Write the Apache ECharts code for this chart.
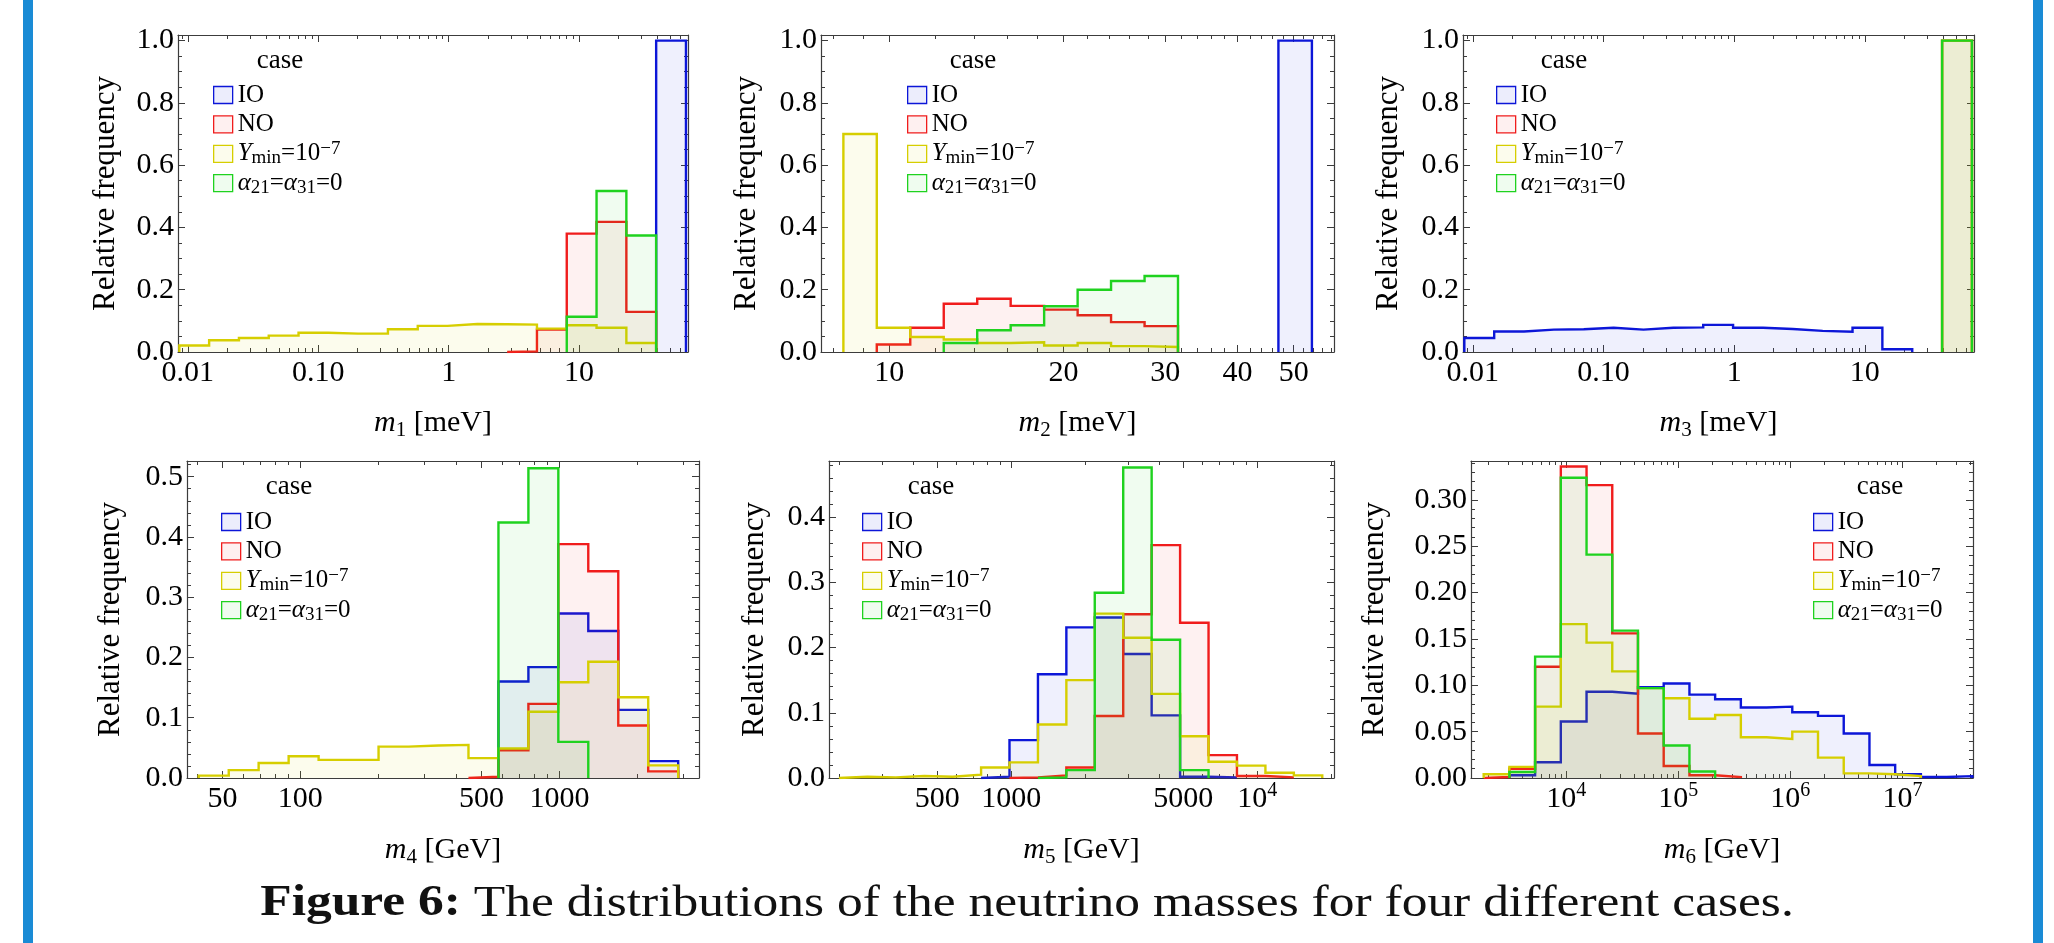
<!DOCTYPE html>
<html>
<head>
<meta charset="utf-8">
<script src="https://cdn.jsdelivr.net/npm/echarts@6.0.0/dist/echarts.min.js"></script>
<style>
  html, body { margin: 0; padding: 0; background: #fff; }
  #chart { width: 2054px; height: 943px; }
</style>
</head>
<body>
<div id="chart"></div>
<script>
// ---------------- data: histogram bin edges and relative frequencies ----------------
// m1 and m3 share one logarithmic binning (meV)
const m13Edges = [0.00861, 0.01457, 0.02466, 0.04174, 0.07063, 0.1195, 0.2023, 0.3423, 0.5794,
  0.9806, 1.660, 2.809, 4.753, 8.044, 13.61, 23.04, 38.99, 65.99];
const m1IO    = [null, null, null, null, null, null, null, null, null, null, null, null, null, null, null, null, 1.0];
const m1NO    = [null, null, null, null, null, null, null, null, null, null, null, 0.002, 0.072, 0.380, 0.418, 0.129, null];
const m1Ymin  = [0.021, 0.0375, 0.045, 0.0525, 0.062, 0.059, 0.059, 0.073, 0.084, 0.090, 0.089, 0.088, 0.075, 0.086, 0.078, 0.029, null];
const m1Alpha = [null, null, null, null, null, null, null, null, null, null, null, null, null, 0.113, 0.517, 0.374, null];

const m3IO    = [0.045, 0.066, 0.072, 0.073, 0.078, 0.072, 0.078, 0.079, 0.087, 0.078, 0.074, 0.068, 0.065, 0.078, 0.009, null, null];
const m3NO    = [null, null, null, null, null, null, null, null, null, null, null, null, null, null, null, null, 1.0];
const m3Ymin  = [null, null, null, null, null, null, null, null, null, null, null, null, null, null, null, null, 1.0];
const m3Alpha = [null, null, null, null, null, null, null, null, null, null, null, null, null, null, null, null, 1.0];

// m2 (meV)
const m2Edges = [8.33, 9.514, 10.87, 12.42, 14.19, 16.21, 18.52, 21.16, 24.17, 27.62, 31.55, 36.05, 41.19, 47.05, 53.76];
const m2IO    = [null, null, null, null, null, null, null, null, null, null, null, null, null, 1.0];
const m2NO    = [null, 0.024, 0.078, 0.155, 0.171, 0.148, 0.136, 0.118, 0.096, 0.083, null, null, null, null];
const m2Ymin  = [0.700, 0.078, 0.048, 0.040, 0.029, 0.031, 0.021, 0.029, 0.019, 0.016, null, null, null, null];
const m2Alpha = [null, null, null, 0.029, 0.070, 0.086, 0.147, 0.200, 0.228, 0.244, null, null, null, null];

// m4 (GeV)
const m4Edges = [40.5, 52.9, 69.0, 90.1, 117.6, 153.5, 200.4, 261.6, 341.5, 445.7, 581.8, 759.3, 990.8, 1293, 1688, 2203, 2876];
const m4IO    = [null, null, null, null, null, null, null, null, null, null, 0.160, 0.184, 0.273, 0.244, 0.113, 0.028];
const m4NO    = [null, null, null, null, null, null, null, null, null, 0.002, 0.046, 0.123, 0.388, 0.343, 0.087, 0.011];
const m4Ymin  = [0.004, 0.013, 0.025, 0.036, 0.030, 0.030, 0.052, 0.054, 0.055, 0.033, 0.049, 0.110, 0.159, 0.193, 0.134, 0.021];
const m4Alpha = [null, null, null, null, null, null, null, null, null, null, 0.424, 0.514, 0.060, null, null, null];

// m5 (GeV)
const m5Edges = [199.3, 260.2, 339.4, 442.9, 577.9, 754.1, 983.8, 1284, 1675, 2185, 2852, 3721, 4856, 6337, 8267, 10790, 14080, 18370];
const m5IO    = [null, null, null, null, null, 0.002, 0.058, 0.159, 0.231, 0.246, 0.190, 0.096, 0.002, 0.001, null, null, null];
const m5NO    = [null, null, null, null, null, null, 0.001, 0.004, 0.016, 0.095, 0.251, 0.357, 0.238, 0.035, 0.003, 0.001, null];
const m5Ymin  = [0.002, 0.001, 0.003, 0.002, 0.005, 0.016, 0.024, 0.082, 0.150, 0.252, 0.215, 0.129, 0.064, 0.025, 0.019, 0.008, 0.004];
const m5Alpha = [null, null, null, null, null, null, null, 0.001, 0.012, 0.284, 0.476, 0.212, 0.012, null, null, null, null];

// m6 (GeV)
const m6Edges = [1828, 3101, 5262, 8929, 15150, 25700, 43610, 73990, 125600, 213000, 361400, 613200,
  1.040e6, 1.765e6, 2.995e6, 5.082e6, 8.622e6, 1.463e7, 2.482e7, 4.211e7];
const m6IO    = [null, 0.003, 0.017, 0.061, 0.093, 0.091, 0.098, 0.102, 0.090, 0.085, 0.076, 0.077, 0.071, 0.067, 0.048, 0.014, 0.004, 0.001, 0.002];
const m6NO    = [0.001, 0.010, 0.120, 0.336, 0.316, 0.156, 0.048, 0.013, 0.003, 0.001, null, null, null, null, null, null, null, null, null];
const m6Ymin  = [0.004, 0.012, 0.077, 0.166, 0.146, 0.115, 0.097, 0.086, 0.064, 0.068, 0.044, 0.042, 0.050, 0.022, 0.005, 0.004, 0.002, null, null];
const m6Alpha = [null, 0.0065, 0.131, 0.324, 0.241, 0.159, 0.097, 0.035, 0.007, null, null, null, null, null, null, null, null, null, null];

// ---------------- axis ranges and tick labels ----------------
const m13Range = [0.00841, 68.4];
const m2Range  = [7.62, 58.7];
const m4Range  = [36.5, 3460];
const m5Range  = [181.7, 20500];
const m6Range  = [1409, 4.27e7];

const m13Ticks = [0.01, 0.1, 1, 10];
const m13TickText = ['0.01', '0.10', '1', '10'];
const m2Ticks = [10, 20, 30, 40, 50];
const m2TickText = ['10', '20', '30', '40', '50'];
const m2MinorTicks = [8, 9, 12, 14, 16, 18, 22, 24, 26, 28, 32, 34, 36, 38, 42, 44, 46, 48, 52, 54, 56, 58];
const m4Ticks = [50, 100, 500, 1000];
const m4TickText = ['50', '100', '500', '1000'];
const m5Ticks = [500, 1000, 5000, 10000];
const m5TickText = ['500', '1000', '5000', '10{sup|4}'];
const m6Ticks = [1e4, 1e5, 1e6, 1e7];
const m6TickText = ['10{sup|4}', '10{sup|5}', '10{sup|6}', '10{sup|7}'];

const freqTicksA = [0, 0.2, 0.4, 0.6, 0.8, 1.0];
const freqTicksB = [0, 0.1, 0.2, 0.3, 0.4, 0.5];
const freqTicksC = [0, 0.1, 0.2, 0.3, 0.4];
const freqTicksD = [0, 0.05, 0.10, 0.15, 0.20, 0.25, 0.30];

const caseNames = ['IO', 'NO', 'Ymin', 'alpha'];

// ---------------- styling ----------------
const FONT = '"Liberation Serif", "Times New Roman", Times, serif';
const FRAME = '#3c3c3c';
const lineColors = { IO: '#0c16d8', NO: '#f01c1c', Ymin: '#d6ce00', alpha: '#1fd21f' };
const fillColors = {
  IO: 'rgba(40,50,225,0.075)', NO: 'rgba(235,40,40,0.065)',
  Ymin: 'rgba(215,210,0,0.07)', alpha: 'rgba(30,210,30,0.065)'
};
const legendFill = {
  IO: 'rgba(40,50,225,0.09)', NO: 'rgba(235,40,40,0.07)',
  Ymin: 'rgba(215,210,0,0.07)', alpha: 'rgba(30,210,30,0.07)'
};
const legendText = {
  IO: 'IO', NO: 'NO',
  Ymin: '{i|Y}{sub|min}=10{sup|\u22127}',
  alpha: '{i|\u03b1}{sub|21}={i|\u03b1}{sub|31}=0'
};

const panels = [
  { edges: m13Edges, values: [m1IO, m1NO, m1Ymin, m1Alpha], range: m13Range, ticks: m13Ticks, tickText: m13TickText,
    yMax: 1.018, yTicks: freqTicksA, yMinorStep: 0.05, yDigits: 1, name: '{i|m}{sub|1} [meV]',
    grid: { left: 178, top: 35, width: 510, height: 317 }, legend: { left: 213, top: 81 }, caseAt: [280, 61], yGap: 56, xGap: 53 },
  { edges: m2Edges, values: [m2IO, m2NO, m2Ymin, m2Alpha], range: m2Range, ticks: m2Ticks, tickText: m2TickText, minor: m2MinorTicks,
    yMax: 1.018, yTicks: freqTicksA, yMinorStep: 0.05, yDigits: 1, name: '{i|m}{sub|2} [meV]',
    grid: { left: 821, top: 35, width: 513, height: 317 }, legend: { left: 907, top: 81 }, caseAt: [973, 61], yGap: 58, xGap: 53 },
  { edges: m13Edges, values: [m3IO, m3NO, m3Ymin, m3Alpha], range: m13Range, ticks: m13Ticks, tickText: m13TickText,
    yMax: 1.018, yTicks: freqTicksA, yMinorStep: 0.05, yDigits: 1, name: '{i|m}{sub|3} [meV]',
    grid: { left: 1463, top: 35, width: 511, height: 317 }, legend: { left: 1496, top: 81 }, caseAt: [1564, 61], yGap: 58, xGap: 53 },
  { edges: m4Edges, values: [m4IO, m4NO, m4Ymin, m4Alpha], range: m4Range, ticks: m4Ticks, tickText: m4TickText,
    yMax: 0.526, yTicks: freqTicksB, yMinorStep: 0.02, yDigits: 1, name: '{i|m}{sub|4} [GeV]',
    grid: { left: 187, top: 461, width: 512, height: 317 }, legend: { left: 221, top: 508 }, caseAt: [289, 487], yGap: 60, xGap: 54 },
  { edges: m5Edges, values: [m5IO, m5NO, m5Ymin, m5Alpha], range: m5Range, ticks: m5Ticks, tickText: m5TickText,
    yMax: 0.486, yTicks: freqTicksC, yMinorStep: 0.02, yDigits: 1, name: '{i|m}{sub|5} [GeV]',
    grid: { left: 829, top: 461, width: 505, height: 317 }, legend: { left: 862, top: 508 }, caseAt: [931, 487], yGap: 58, xGap: 54 },
  { edges: m6Edges, values: [m6IO, m6NO, m6Ymin, m6Alpha], range: m6Range, ticks: m6Ticks, tickText: m6TickText,
    yMax: 0.342, yTicks: freqTicksD, yMinorStep: 0.01, yDigits: 2, name: '{i|m}{sub|6} [GeV]',
    grid: { left: 1471, top: 461, width: 502, height: 317 }, legend: { left: 1813, top: 508 }, caseAt: [1880, 487], yGap: 80, xGap: 54 }
];

// ---------------- helpers ----------------
const log10 = Math.log10;

// minor ticks at d x 10^k inside the range, skipping labelled ticks
function logMinor(range, majors) {
  const out = [];
  for (let e = Math.floor(log10(range[0])) - 1; e <= Math.ceil(log10(range[1])); e++) {
    for (let d = 1; d <= 9; d++) {
      const v = d * Math.pow(10, e);
      if (v > range[0] && v < range[1] && !majors.some(m => Math.abs(m - v) / m < 1e-9)) out.push(v);
    }
  }
  return out;
}

function linearMinor(step, max, majors) {
  const out = [];
  for (let k = 1; k * step < max; k++) {
    const v = +(k * step).toFixed(4);
    if (!majors.some(m => Math.abs(m - v) < 1e-9)) out.push(v);
  }
  return out;
}

// outline of a histogram drawn as steps; empty bins break the outline
function stepPath(edges, heights) {
  const pts = [];
  let open = false;
  heights.forEach((h, i) => {
    const x0 = log10(edges[i]), x1 = log10(edges[i + 1]);
    if (h == null) {
      if (open) { pts.push([x0, 0], [NaN, NaN]); open = false; }
      return;
    }
    if (!open) { pts.push([x0, 0]); open = true; }
    pts.push([x0, h], [x1, h]);
  });
  if (open) pts.push([log10(edges[heights.length]), 0]);
  return pts;
}

const tickLine = { color: FRAME, width: 1 };
const frameLine = { show: true, onZero: false, lineStyle: { color: FRAME, width: 1.2 } };
const noLine = { show: false, onZero: false };

const grids = [], xAxes = [], yAxes = [], series = [], legends = [], graphics = [];

panels.forEach((p, gi) => {
  grids.push(Object.assign({ containLabel: false }, p.grid));

  const xMin = log10(p.range[0]), xMax = log10(p.range[1]);
  const major = p.ticks.map(log10);
  const minor = (p.minor || logMinor(p.range, p.ticks)).map(log10);
  const xBase = { type: 'value', gridIndex: gi, min: xMin, max: xMax, splitLine: { show: false }, silent: true };
  const labelFor = v => {
    const i = major.findIndex(t => Math.abs(t - v) < 1e-9);
    return i < 0 ? '' : p.tickText[i];
  };

  xAxes.push(
    Object.assign({}, xBase, {
      position: 'bottom', axisLine: frameLine,
      axisTick: { show: true, inside: true, length: 7, customValues: major, lineStyle: tickLine },
      axisLabel: {
        show: true, customValues: major, formatter: labelFor, margin: 3,
        fontFamily: FONT, fontSize: 30, color: '#000', lineHeight: 36,
        rich: { sup: { fontFamily: FONT, fontSize: 20, lineHeight: 20, verticalAlign: 'top', color: '#000' } }
      },
      name: p.name, nameLocation: 'middle', nameGap: p.xGap,
      nameTextStyle: {
        fontFamily: FONT, fontSize: 30, color: '#000', lineHeight: 36,
        rich: {
          i: { fontFamily: FONT, fontSize: 30, fontStyle: 'italic', color: '#000', lineHeight: 36 },
          sub: { fontFamily: FONT, fontSize: 21, lineHeight: 21, verticalAlign: 'bottom', color: '#000' }
        }
      }
    }),
    Object.assign({}, xBase, {
      position: 'bottom', axisLine: noLine,
      axisTick: { show: true, inside: true, length: 4, customValues: minor, lineStyle: tickLine },
      axisLabel: { show: false }
    }),
    Object.assign({}, xBase, {
      position: 'top', axisLine: frameLine,
      axisTick: { show: true, inside: true, length: 7, customValues: major, lineStyle: tickLine },
      axisLabel: { show: false }
    }),
    Object.assign({}, xBase, {
      position: 'top', axisLine: noLine,
      axisTick: { show: true, inside: true, length: 4, customValues: minor, lineStyle: tickLine },
      axisLabel: { show: false }
    })
  );

  const yMinor = linearMinor(p.yMinorStep, p.yMax, p.yTicks);
  const yBase = { type: 'value', gridIndex: gi, min: 0, max: p.yMax, splitLine: { show: false }, silent: true };
  yAxes.push(
    Object.assign({}, yBase, {
      position: 'left', axisLine: frameLine,
      axisTick: { show: true, inside: true, length: 7, customValues: p.yTicks, lineStyle: tickLine },
      axisLabel: {
        show: true, customValues: p.yTicks, margin: 4,
        formatter: v => v.toFixed(p.yDigits),
        fontFamily: FONT, fontSize: 30, color: '#000'
      },
      name: 'Relative frequency', nameLocation: 'middle', nameGap: p.yGap,
      nameTextStyle: { fontFamily: FONT, fontSize: 31, color: '#000', lineHeight: 32 }
    }),
    Object.assign({}, yBase, {
      position: 'left', axisLine: noLine,
      axisTick: { show: true, inside: true, length: 4, customValues: yMinor, lineStyle: tickLine },
      axisLabel: { show: false }
    }),
    Object.assign({}, yBase, {
      position: 'right', axisLine: frameLine,
      axisTick: { show: true, inside: true, length: 7, customValues: p.yTicks, lineStyle: tickLine },
      axisLabel: { show: false }
    }),
    Object.assign({}, yBase, {
      position: 'right', axisLine: noLine,
      axisTick: { show: true, inside: true, length: 4, customValues: yMinor, lineStyle: tickLine },
      axisLabel: { show: false }
    })
  );

  caseNames.forEach((c, ci) => {
    series.push({
      type: 'line', name: c, xAxisIndex: gi * 4, yAxisIndex: gi * 4,
      data: stepPath(p.edges, p.values[ci]),
      symbol: 'none', showSymbol: false, silent: true, connectNulls: false,
      lineStyle: { color: lineColors[c], width: 2.4, join: 'miter', cap: 'butt' },
      itemStyle: { color: lineColors[c] },
      areaStyle: { color: fillColors[c], opacity: 1 },
      emphasis: { disabled: true },
      z: 2 + ci
    });
  });

  legends.push({
    left: p.legend.left, top: p.legend.top, orient: 'vertical', padding: 0,
    itemWidth: 19, itemHeight: 17, itemGap: 1.4, selectedMode: false,
    data: caseNames.map(c => ({
      name: c, icon: 'rect',
      itemStyle: { color: legendFill[c], borderColor: lineColors[c], borderWidth: 1.3 }
    })),
    formatter: name => legendText[name],
    textStyle: {
      fontFamily: FONT, fontSize: 25, color: '#000', lineHeight: 28,
      rich: {
        i: { fontFamily: FONT, fontSize: 25, fontStyle: 'italic', color: '#000', lineHeight: 28 },
        sub: { fontFamily: FONT, fontSize: 19, lineHeight: 17, verticalAlign: 'bottom', color: '#000' },
        sup: { fontFamily: FONT, fontSize: 19, lineHeight: 17, verticalAlign: 'top', color: '#000' }
      }
    }
  });

  graphics.push({
    type: 'text', x: p.caseAt[0], y: p.caseAt[1], silent: true,
    style: {
      text: 'case', fontFamily: FONT, fontSize: 27, fill: '#000',
      align: 'center', verticalAlign: 'middle', textAlign: 'center', textVerticalAlign: 'middle'
    }
  });
});

// page decoration: side rules and the figure caption
graphics.push(
  { type: 'rect', shape: { x: 23, y: 0, width: 10, height: 943 }, style: { fill: '#1a8bd5' }, silent: true },
  { type: 'rect', shape: { x: 2033, y: 0, width: 10, height: 943 }, style: { fill: '#1a8bd5' }, silent: true },
  {
    type: 'text', x: 1027, y: 904, scaleX: 1.17, silent: true,
    style: {
      text: '{b|Figure 6:} The distributions of the neutrino masses for four different cases.',
      fontFamily: FONT, fontSize: 44, fill: '#111',
      align: 'center', verticalAlign: 'middle', textAlign: 'center', textVerticalAlign: 'middle',
      rich: { b: { fontFamily: FONT, fontSize: 44, fontWeight: 'bold', fill: '#111', color: '#111' } }
    }
  }
);

const chart = echarts.init(document.getElementById('chart'), null, { renderer: 'canvas' });
chart.setOption({
  backgroundColor: '#ffffff',
  animation: false,
  grid: grids,
  xAxis: xAxes,
  yAxis: yAxes,
  legend: legends,
  series: series,
  graphic: { elements: graphics }
});
</script>
</body>
</html>
